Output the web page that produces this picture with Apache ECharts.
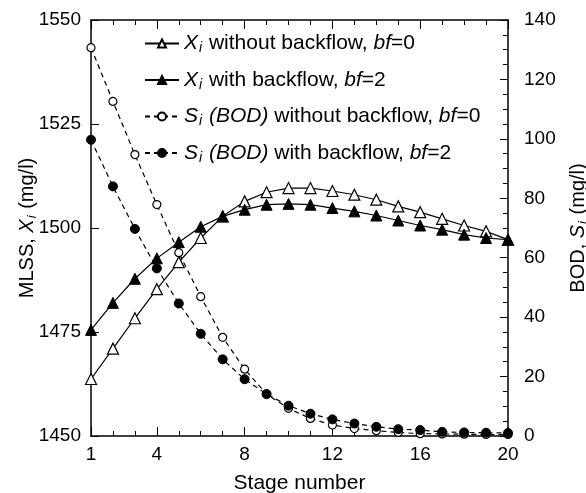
<!DOCTYPE html>
<html>
<head>
<meta charset="utf-8">
<script src="https://cdn.jsdelivr.net/npm/echarts@6/dist/echarts.min.js"></script>
<style>
  html, body { margin: 0; padding: 0; background: #fff; }
  #main { width: 586px; height: 493px; }
</style>
</head>
<body>
<div id="main"></div>
<script>
// stage numbers along the x axis
const stages = [1, 2, 3, 4, 5, 6, 7, 8, 9, 10, 11, 12, 13, 14, 15, 16, 17, 18, 19, 20];
const xLabels = [1, 4, 8, 12, 16, 20];

// MLSS X_i (mg/l), left axis
const xNoBackflow = [1463.7, 1471.0, 1478.3, 1485.3, 1491.8, 1497.6, 1502.8, 1506.4, 1508.6, 1509.6,
                     1509.6, 1508.9, 1508.0, 1506.8, 1505.2, 1503.8, 1502.2, 1500.6, 1499.2, 1497.2];
const xBackflow   = [1475.5, 1482.0, 1487.8, 1492.7, 1496.6, 1500.3, 1502.8, 1504.4, 1505.6, 1505.8,
                     1505.6, 1504.8, 1504.0, 1503.0, 1501.8, 1500.6, 1499.6, 1498.4, 1497.6, 1497.2];

// BOD S_i (mg/l), right axis
const sNoBackflow = [130.7, 112.6, 94.7, 77.9, 61.7, 46.9, 33.2, 22.5, 14.1, 9.3,
                     5.9, 3.7, 2.5, 1.8, 1.2, 0.8, 0.7, 0.6, 0.5, 0.5];
const sBackflow   = [99.7, 84.0, 69.7, 56.4, 44.6, 34.4, 25.8, 19.1, 14.1, 10.2,
                     7.5, 5.6, 4.2, 3.1, 2.3, 2.0, 1.4, 1.2, 1.1, 1.0];

const FONT = 'Liberation Sans';
const pairs = (ys) => stages.map((s, i) => [s, ys[i]]);

const richFor = (size, subSize) => ({
  it: { fontStyle: 'italic', fontSize: size, fontFamily: FONT, color: '#000' },
  sub: { fontStyle: 'italic', fontSize: subSize, fontFamily: FONT, color: '#000', padding: [Math.round(size * 0.48), 1, 0, 1] }
});

const legendText = {
  a: '{it|X}{sub|i} without backflow, {it|bf}=0',
  b: '{it|X}{sub|i} with backflow, {it|bf}=2',
  c: '{it|S}{sub|i} {it|(BOD)} without backflow, {it|bf}=0',
  d: '{it|S}{sub|i} {it|(BOD)} with backflow, {it|bf}=2'
};

const lineBase = { color: '#000', width: 1.2 };
const dashed = { color: '#000', width: 1.2, type: [5, 4] };

const xCommon = {
  type: 'value', min: 1, max: 20, interval: 1,
  splitLine: { show: false }
};

let myChart = echarts.init(document.getElementById('main'));
let option = {
  animation: false,
  backgroundColor: '#fff',
  grid: { left: 91, right: 78, top: 20, bottom: 57, outerBoundsMode: 'none', containLabel: false },
  legend: {
    orient: 'vertical',
    left: 139, top: 27,
    itemWidth: 34, itemHeight: 10, itemGap: 13,
    data: ['a', 'b', 'c', 'd'],
    formatter: (name) => legendText[name],
    textStyle: { fontSize: 21, fontFamily: FONT, color: '#000', lineHeight: 23, rich: richFor(21, 14) }
  },
  xAxis: [
    Object.assign({}, xCommon, {
      position: 'bottom',
      name: 'Stage number', nameLocation: 'middle', nameGap: 37, nameMoveOverlap: false,
      nameTextStyle: { fontSize: 21, fontFamily: FONT, color: '#000' },
      axisLine: { show: true, lineStyle: { color: '#000', width: 1.5 } },
      axisTick: { show: true, inside: true, length: 5, lineStyle: { color: '#000' } },
      axisLabel: { customValues: xLabels, fontSize: 19, fontFamily: FONT, color: '#000', margin: 9 }
    }),
    Object.assign({}, xCommon, {
      position: 'bottom',
      axisLine: { show: false },
      axisTick: { show: true, inside: true, length: 9, customValues: xLabels, lineStyle: { color: '#000' } },
      axisLabel: { show: false }
    }),
    Object.assign({}, xCommon, {
      position: 'top',
      axisLine: { show: true, lineStyle: { color: '#000', width: 1.5 } },
      axisTick: { show: true, inside: true, length: 5, lineStyle: { color: '#000' } },
      axisLabel: { show: false }
    }),
    Object.assign({}, xCommon, {
      position: 'top',
      axisLine: { show: false },
      axisTick: { show: true, inside: true, length: 9, customValues: xLabels, lineStyle: { color: '#000' } },
      axisLabel: { show: false }
    })
  ],
  yAxis: [
    {
      type: 'value', position: 'left', min: 1450, max: 1550, interval: 25,
      name: 'MLSS, {it|X}{sub|i} (mg/l)', nameLocation: 'middle', nameGap: 52, nameMoveOverlap: false,
      nameTextStyle: { fontSize: 20, fontFamily: FONT, color: '#000', rich: richFor(20, 13) },
      splitLine: { show: false },
      axisLine: { show: true, lineStyle: { color: '#000', width: 1.5 } },
      axisTick: { show: true, inside: true, length: 8, lineStyle: { color: '#000' } },
      axisLabel: { fontSize: 19, fontFamily: FONT, color: '#000', margin: 10, formatter: (v) => String(v) }
    },
    {
      type: 'value', position: 'right', min: 0, max: 140, interval: 20,
      name: 'BOD, {it|S}{sub|i} (mg/l)', nameLocation: 'middle', nameGap: 59, nameMoveOverlap: false,
      nameRotate: 90,
      nameTextStyle: { fontSize: 20, fontFamily: FONT, color: '#000', rich: richFor(20, 13) },
      splitLine: { show: false },
      axisLine: { show: true, lineStyle: { color: '#000', width: 1.5 } },
      axisTick: { show: true, inside: true, length: 8, lineStyle: { color: '#000' } },
      minorTick: { show: true, splitNumber: 4, length: 5, lineStyle: { color: '#000' } },
      axisLabel: { fontSize: 19, fontFamily: FONT, color: '#000', margin: 16, formatter: (v) => String(v) }
    }
  ],
  series: [
    {
      name: 'a', type: 'line', xAxisIndex: 0, yAxisIndex: 0, data: pairs(xNoBackflow),
      symbol: 'triangle', symbolSize: 11, lineStyle: lineBase,
      itemStyle: { color: '#fff', borderColor: '#000', borderWidth: 1.2 }
    },
    {
      name: 'b', type: 'line', xAxisIndex: 0, yAxisIndex: 0, data: pairs(xBackflow),
      symbol: 'triangle', symbolSize: 11, lineStyle: lineBase,
      itemStyle: { color: '#000', borderColor: '#000', borderWidth: 1 }
    },
    {
      name: 'c', type: 'line', xAxisIndex: 0, yAxisIndex: 1, data: pairs(sNoBackflow),
      symbol: 'circle', symbolSize: 8, lineStyle: dashed,
      itemStyle: { color: '#fff', borderColor: '#000', borderWidth: 1.2 }
    },
    {
      name: 'd', type: 'line', xAxisIndex: 0, yAxisIndex: 1, data: pairs(sBackflow),
      symbol: 'circle', symbolSize: 9, lineStyle: dashed,
      itemStyle: { color: '#000', borderColor: '#000', borderWidth: 1 }
    }
  ]
};
myChart.setOption(option);
</script>
</body>
</html>
